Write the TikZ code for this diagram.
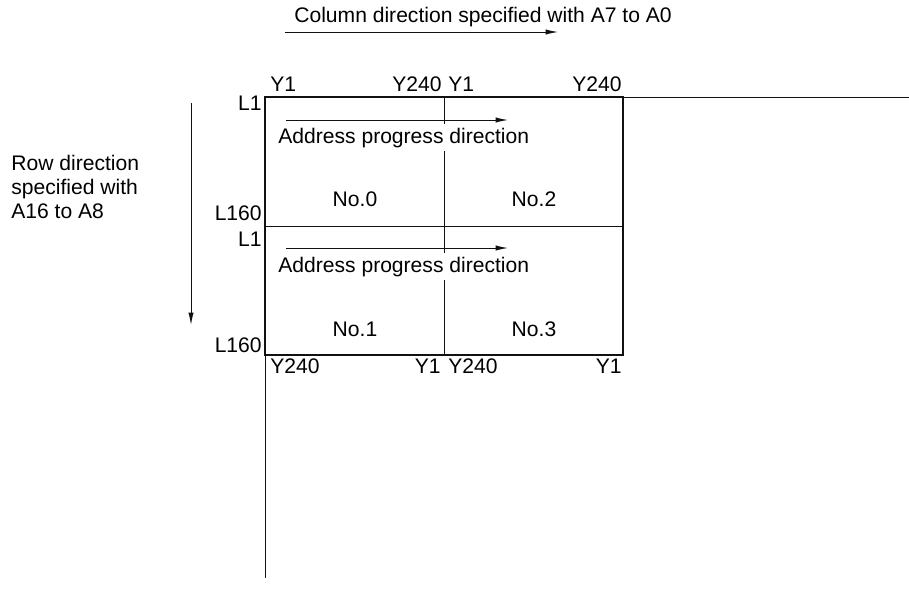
\documentclass[tikz,border=0pt]{standalone}
\usepackage{fontspec}
\setmainfont{Liberation Sans}
\usepackage{tikz}
\usetikzlibrary{arrows.meta, positioning, calc}
\definecolor{lineblack}{HTML}{111111}
\tikzset{
  lbl/.style={font=\fontsize{12}{13.6}\selectfont, inner sep=0pt},
  frame/.style={draw=lineblack, line width=1.2pt},
  thinline/.style={draw=lineblack, line width=0.55pt},
  dirarrow/.style={thinline, -{Latex[length=7pt, width=3pt]}},
}

\begin{document}
\begin{tikzpicture}[x=0.02cm, y=-0.02cm]
  \useasboundingbox (0,0) rectangle (909,609);
  % memory map corners
  \coordinate (tl) at (265,97);
  \coordinate (tr) at (623,97);
  \coordinate (bl) at (265,355);
  \coordinate (br) at (623,355);
  \coordinate (ml) at (265,226);
  \coordinate (mr) at (623,226);
  \coordinate (mt) at (444,97);
  \coordinate (mb) at (444,355);
  \coordinate (xend) at (909,97);
  \coordinate (yend) at (265,578);

  % axes and dividers
  \draw[thinline] (tr) -- (xend);
  \draw[thinline] (bl) -- (yend);
  \draw[thinline] (ml) -- (mr);
  \draw[thinline] (mt) -- (mb);
  \draw[frame] (tl) rectangle (br);

  % column direction
  \node[lbl, anchor=base west] (colcap) at (294,22) {Column direction specified with A7 to A0};
  \coordinate (colA) at (285,32);
  \coordinate (colB) at (558,32);
  \draw[dirarrow] (colA) -- (colB);

  % row direction
  \node[lbl, anchor=base west, align=left] (rowcap) at (11,218)
    {Row direction\\specified with\\A16 to A8};
  \coordinate (rowA) at (191,103);
  \coordinate (rowB) at (191,325);
  \draw[dirarrow] (rowA) -- (rowB);

  % Y labels
  \node[lbl, anchor=base west] (ytl) at (270,91) {Y1};
  \node[lbl, anchor=base east] (ytm) at (442,91) {Y240};
  \node[lbl, anchor=base west] (ytn) at (448,91) {Y1};
  \node[lbl, anchor=base east] (ytr) at (622,91) {Y240};
  \node[lbl, anchor=base west] (ybl) at (270,373) {Y240};
  \node[lbl, anchor=base east] (ybm) at (441,373) {Y1};
  \node[lbl, anchor=base west] (ybn) at (448,373) {Y240};
  \node[lbl, anchor=base east] (ybr) at (622,373) {Y1};

  % L labels
  \node[lbl, anchor=base east] (la) at (262,110) {L1};
  \node[lbl, anchor=base east] (lb) at (262,220) {L160};
  \node[lbl, anchor=base east] (lc) at (262,246) {L1};
  \node[lbl, anchor=base east] (ld) at (262,352) {L160};

  % address progress
  \node[lbl, anchor=base west, fill=white, inner ysep=2pt] (adrA) at (278,143) {Address progress direction};
  \node[lbl, anchor=base west, fill=white, inner ysep=2pt] (adrB) at (278,272) {Address progress direction};
  \coordinate (pa1) at (286,120);
  \coordinate (pa2) at (508,120);
  \coordinate (pb1) at (286,248);
  \coordinate (pb2) at (508,248);
  \draw[dirarrow] (pa1) -- (pa2);
  \draw[dirarrow] (pb1) -- (pb2);

  % block numbers
  \node[lbl] (blk0) at (355,199) {No.0};
  \node[lbl] (blk2) at (534,199) {No.2};
  \node[lbl] (blk1) at (355,329) {No.1};
  \node[lbl] (blk3) at (534,329) {No.3};
\end{tikzpicture}
\end{document}
